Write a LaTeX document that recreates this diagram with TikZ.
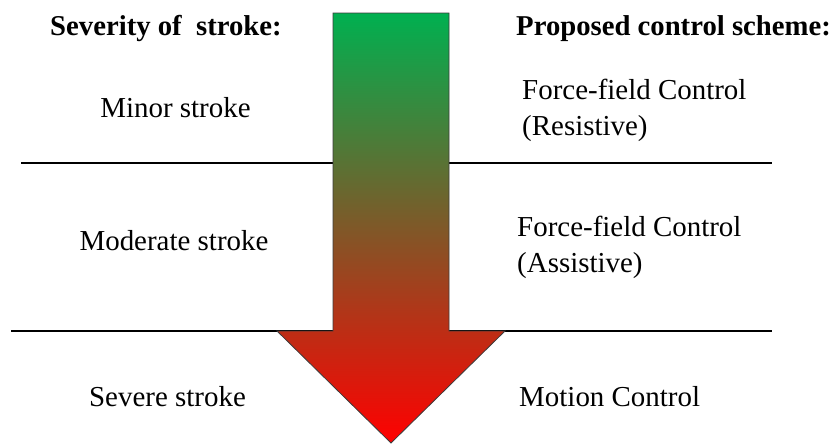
\documentclass[tikz,border=0pt]{standalone}
\usepackage{fontspec}
\setmainfont{Liberation Serif}

\definecolor{arrowgreen}{RGB}{0,176,80}
\definecolor{arrowred}{RGB}{255,0,0}
\definecolor{arrowedge}{RGB}{60,60,60}

\tikzset{
  sepline/.style={draw=black,line width=0.08cm},
  heading/.style={font=\fontsize{24.5}{30}\selectfont\bfseries,inner sep=0pt},
  label/.style={font=\fontsize{24.7}{30.7}\selectfont,inner sep=0pt,align=left}
}

\begin{document}
\begin{tikzpicture}[x=0.03cm,y=-0.03cm]

      \useasboundingbox (0,0) rectangle (839,443);

      % end points of the separating lines
      \coordinate (u1) at (21,163);
      \coordinate (u2) at (772,163);
      \coordinate (l1) at (11,331);
      \coordinate (l2) at (772,331);

      \draw[sepline] (u1) -- (u2);
      \draw[sepline] (l1) -- (l2);

      % the big arrow
      \coordinate (tl) at (333,13);
      \coordinate (tr) at (449,13);
      \coordinate (sr) at (449,331);
      \coordinate (hr) at (505,331);
      \coordinate (tip) at (391,443);
      \coordinate (hl) at (277,331);
      \coordinate (sl) at (333,331);

      \draw[draw=arrowedge,line width=0.7pt,top color=arrowgreen,bottom color=arrowred]
        (tl) -- (tr) -- (sr) -- (hr) -- (tip) -- (hl) -- (sl) -- cycle;

      \begin{scope}[every node/.style={heading,anchor=base west}]
        \node (sev)  at (50,35)  {Severity of\ \ stroke:};
        \node (prop) at (516,35) {Proposed control scheme:};
      \end{scope}

      \begin{scope}[every node/.style={label,anchor=base}]
        \node (minor) at (175.5,117) {Minor stroke};
        \node (moder) at (174,250)   {Moderate stroke};
        \node (sever) at (167.5,406) {Severe stroke};
      \end{scope}

      % two-line nodes sit on the baseline of their last line
      \begin{scope}[every node/.style={label,anchor=base west}]
        \node (resist) at (522,135) {Force-field Control\\(Resistive)};
        \node (assist) at (517,272) {Force-field Control\\(Assistive)};
        \node (motion) at (519,406) {Motion Control};
      \end{scope}

    \end{tikzpicture}
\end{document}
